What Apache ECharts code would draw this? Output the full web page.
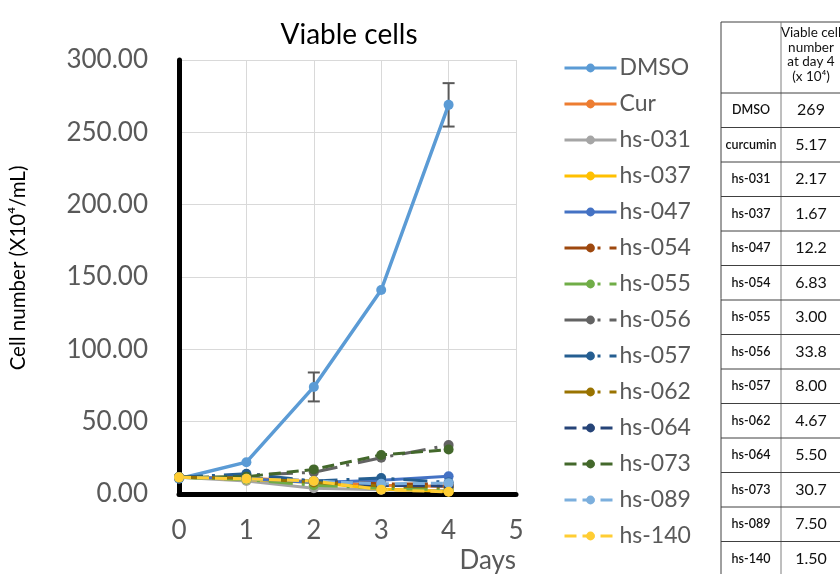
<!DOCTYPE html>
<html>
<head>
<meta charset="utf-8">
<script src="https://cdn.jsdelivr.net/npm/echarts@6/dist/echarts.min.js"></script>
<style>
  html, body { margin: 0; padding: 0; background: #fff; }
  #chart { width: 840px; height: 574px; }
</style>
</head>
<body>
<div id="chart"></div>
<script>
// Days of culture
const days = [0, 1, 2, 3, 4];

// Viable cell counts (x10^4 / mL) per treatment, day 0..4
const dmso  = [10.5, 22, 74, 141, 269];
const cur   = [11.5, 11, 8.5, 6, 5.17];
const hs031 = [11.5, 9, 4, 3, 2.17];
const hs037 = [11.5, 10, 8, 3.5, 1.67];
const hs047 = [11.5, 10.5, 8, 9.5, 12.2];
const hs054 = [11.5, 11, 9, 7, 6.83];
const hs055 = [11.5, 10, 6, 4, 3.00];
const hs056 = [11.5, 13, 15, 25, 33.8];
const hs057 = [11.5, 14, 9, 11, 8.00];
const hs062 = [11.5, 11, 8, 5.5, 4.67];
const hs064 = [11.5, 11, 9, 6, 5.50];
const hs073 = [11.5, 12, 17, 27, 30.7];
const hs089 = [11.5, 10.5, 9, 7, 7.50];
const hs140 = [11.5, 10.5, 9, 3, 1.50];

// DMSO standard deviation per day (0 = no visible bar)
const dmsoSd = [0, 0, 10, 0, 15];

// Y axis ticks
const yTicks = [0, 50, 100, 150, 200, 250, 300];

// Day-4 summary table
const tableLabels = ['DMSO', 'curcumin', 'hs-031', 'hs-037', 'hs-047', 'hs-054', 'hs-055',
                     'hs-056', 'hs-057', 'hs-062', 'hs-064', 'hs-073', 'hs-089', 'hs-140'];
const tableValues = ['269', '5.17', '2.17', '1.67', '12.2', '6.83', '3.00',
                     '33.8', '8.00', '4.67', '5.50', '30.7', '7.50', '1.50'];
const tableHeader = ['Viable cell', 'number', 'at day 4', '(x 10\u2074)'];

const FONT = 'Lato';
const LONG_DASH_DOT = [24, 9, 3, 9];
const DASH = [12, 6];

const seriesDefs = [
  { name: 'DMSO',   data: dmso,  color: '#5B9BD5', type: 'solid' },
  { name: 'Cur',    data: cur,   color: '#ED7D31', type: 'solid' },
  { name: 'hs-031', data: hs031, color: '#A5A5A5', type: 'solid' },
  { name: 'hs-037', data: hs037, color: '#FFC000', type: 'solid' },
  { name: 'hs-047', data: hs047, color: '#4472C4', type: 'solid' },
  { name: 'hs-054', data: hs054, color: '#9E480E', type: LONG_DASH_DOT },
  { name: 'hs-055', data: hs055, color: '#70AD47', type: LONG_DASH_DOT },
  { name: 'hs-056', data: hs056, color: '#636363', type: LONG_DASH_DOT },
  { name: 'hs-057', data: hs057, color: '#255E91', type: LONG_DASH_DOT },
  { name: 'hs-062', data: hs062, color: '#997300', type: LONG_DASH_DOT },
  { name: 'hs-064', data: hs064, color: '#264478', type: DASH },
  { name: 'hs-073', data: hs073, color: '#43682B', type: DASH },
  { name: 'hs-089', data: hs089, color: '#7CAFDD', type: DASH },
  { name: 'hs-140', data: hs140, color: '#FFCD33', type: DASH }
];

const lineSeries = seriesDefs.map(function (d) {
  return {
    name: d.name,
    type: 'line',
    data: days.map(function (x, i) { return [x, d.data[i]]; }),
    symbol: 'circle',
    symbolSize: 10,
    showSymbol: true,
    color: d.color,
    lineStyle: { width: d.name === 'DMSO' ? 3.5 : 3, type: d.type, color: d.color },
    itemStyle: { color: d.color },
    emphasis: { disabled: true },
    animation: false
  };
});

// Error bars for DMSO
const errData = [];
days.forEach(function (x, i) {
  if (dmsoSd[i] > 0) errData.push([x, dmso[i] - dmsoSd[i], dmso[i] + dmsoSd[i]]);
});
const errSeries = {
  type: 'custom',
  name: 'DMSO sd',
  data: errData,
  z: 1,
  animation: false,
  renderItem: function (params, api) {
    const x = api.value(0);
    const lo = api.coord([x, api.value(1)]);
    const hi = api.coord([x, api.value(2)]);
    const cap = 6;
    const style = { stroke: '#595959', lineWidth: 2 };
    return {
      type: 'group',
      children: [
        { type: 'line', shape: { x1: lo[0], y1: lo[1], x2: hi[0], y2: hi[1] }, style: style },
        { type: 'line', shape: { x1: lo[0] - cap, y1: lo[1], x2: lo[0] + cap, y2: lo[1] }, style: style },
        { type: 'line', shape: { x1: hi[0] - cap, y1: hi[1], x2: hi[0] + cap, y2: hi[1] }, style: style }
      ]
    };
  }
};

// Summary table drawn as graphic elements
const tX0 = 721, tX1 = 781, tX2 = 843;
const tTop = 22, tHeadBottom = 93, rowH = 34.5;
const tBottom = tHeadBottom + rowH * tableLabels.length;
const tableGraphics = [];
const lineStyleDark = { stroke: '#404040', lineWidth: 1 };
const lineStyleMid = { stroke: '#7f7f7f', lineWidth: 1 };
tableGraphics.push({ type: 'line', shape: { x1: tX0, y1: tTop, x2: tX2, y2: tTop }, style: lineStyleDark });
tableGraphics.push({ type: 'line', shape: { x1: tX0, y1: tTop, x2: tX0, y2: tBottom }, style: lineStyleDark });
tableGraphics.push({ type: 'line', shape: { x1: tX1, y1: tTop, x2: tX1, y2: tBottom }, style: lineStyleMid });
tableGraphics.push({ type: 'line', shape: { x1: tX0, y1: tHeadBottom, x2: tX2, y2: tHeadBottom }, style: lineStyleDark });
tableHeader.forEach(function (t, i) {
  tableGraphics.push({
    type: 'text',
    x: (tX1 + tX2) / 2 - 1, y: 33 + i * 14.5,
    style: { text: t, fill: '#111', font: '13.5px ' + FONT, align: 'center', verticalAlign: 'middle' }
  });
});
tableLabels.forEach(function (lab, i) {
  const yMid = tHeadBottom + rowH * (i + 0.5);
  tableGraphics.push({
    type: 'line',
    shape: { x1: tX0, y1: tHeadBottom + rowH * (i + 1), x2: tX2, y2: tHeadBottom + rowH * (i + 1) },
    style: lineStyleDark
  });
  tableGraphics.push({
    type: 'text', x: (tX0 + tX1) / 2, y: yMid,
    style: { text: lab, fill: '#111', font: '600 12.5px ' + FONT, align: 'center', verticalAlign: 'middle' }
  });
  tableGraphics.push({
    type: 'text', x: (tX1 + tX2) / 2 - 1, y: yMid,
    style: { text: tableValues[i], fill: '#111', font: '16px ' + FONT, align: 'center', verticalAlign: 'middle' }
  });
});

const chart = echarts.init(document.getElementById('chart'), null, { renderer: 'canvas' });
chart.setOption({
  animation: false,
  backgroundColor: '#ffffff',
  textStyle: { fontFamily: FONT },
  title: {
    text: 'Viable cells',
    left: 344, top: 16,
    textAlign: 'center',
    textStyle: { fontFamily: FONT, fontSize: 28, fontWeight: 'normal', color: '#000' }
  },
  legend: {
    orient: 'vertical',
    left: 563, top: 55,
    padding: 0,
    itemWidth: 52, itemHeight: 11, itemGap: 10,
    data: seriesDefs.map(function (d) { return d.name; }),
    lineStyle: { width: 3 },
    textStyle: { fontFamily: FONT, fontSize: 23, lineHeight: 26, color: '#595959', padding: [0, 0, 0, -2] },
    selectedMode: false
  },
  grid: { left: 179, top: 60, width: 337, height: 434, containLabel: false },
  xAxis: {
    type: 'value', min: 0, max: 5, interval: 1,
    name: 'Days', nameLocation: 'end', nameGap: 0,
    nameTextStyle: { fontFamily: FONT, fontSize: 26, color: '#595959', align: 'right', verticalAlign: 'top', padding: [54, 0, 0, 0] },
    axisLine: { show: true, onZero: false, lineStyle: { color: '#000', width: 5 } },
    axisTick: { show: false },
    axisLabel: { fontFamily: FONT, fontSize: 26, color: '#595959', margin: 24 },
    splitLine: { show: true, lineStyle: { color: '#D9D9D9', width: 1 } }
  },
  yAxis: {
    type: 'value', min: yTicks[0], max: yTicks[yTicks.length - 1], interval: yTicks[1] - yTicks[0],
    name: 'Cell number (X10\u2074/mL)', nameLocation: 'middle', nameRotate: 90, nameGap: 150,
    nameTextStyle: { fontFamily: FONT, fontSize: 20.5, color: '#000', padding: [0, 0, 0, 18] },
    axisLine: { show: true, onZero: false, lineStyle: { color: '#000', width: 5 } },
    axisTick: { show: false },
    axisLabel: { fontFamily: FONT, fontSize: 26, color: '#595959', margin: 31,
      formatter: function (v) { return v.toFixed(2); } },
    splitLine: { show: true, lineStyle: { color: '#D9D9D9', width: 1 } }
  },
  graphic: tableGraphics,
  series: [errSeries].concat(lineSeries)
});
</script>
</body>
</html>
